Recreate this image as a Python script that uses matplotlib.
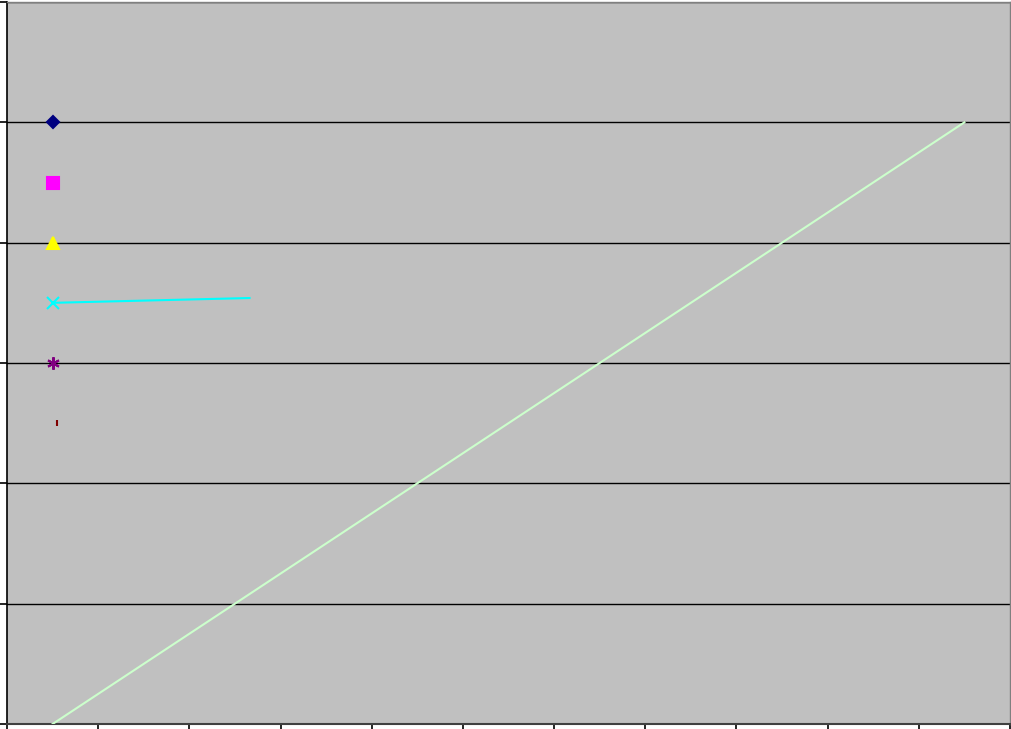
import matplotlib.pyplot as plt
import numpy as np

# data (x in category units, y in grid units)
marker_x = [0.5, 0.5, 0.5, 0.5, 0.5, 0.55]
marker_y = [5.0, 4.5, 4.0, 3.5, 3.0, 2.5]
marker_styles = ['D', 's', '^', 'x', (6, 2, 0), '|']
marker_colors = ['#000080', '#ff00ff', '#ffff00', '#00ffff', '#800080', '#800000']
marker_sizes = [6.5, 8, 8, 8, 9, 4]

cyan_x = [0.5, 2.66]
cyan_y = [3.5, 3.54]

green_x = [0.5, 10.5]
green_y = [0.0, 5.0]

fig = plt.figure(figsize=(10.11, 7.29), dpi=100)
ax = fig.add_axes([7 / 1011, 5 / 729, 1003 / 1011, 722 / 729])
ax.set_facecolor('#c0c0c0')

ax.plot(green_x, green_y, color='#ccffcc', lw=1.5, zorder=3)
ax.plot(cyan_x, cyan_y, color='#00ffff', lw=1.5, zorder=3)

for x, y, m, c, s in zip(marker_x, marker_y, marker_styles, marker_colors, marker_sizes):
    ax.plot([x], [y], marker=m, color=c, markersize=s, markeredgewidth=1.5,
            linestyle='none', zorder=4)

ax.set_xlim(0, 11)
ax.set_ylim(0, 6)
ax.set_xticks(np.arange(0, 12))
ax.set_yticks(np.arange(0, 7))
ax.set_xticklabels([])
ax.set_yticklabels([])
ax.tick_params(axis='both', direction='out', length=5, width=1.2, color='black')
ax.grid(axis='y', color='black', lw=1)
ax.set_axisbelow(True)

for side in ['top', 'right']:
    ax.spines[side].set_color('#808080')
    ax.spines[side].set_linewidth(1)
ax.spines['left'].set_color('black')
ax.spines['left'].set_linewidth(1.2)
ax.spines['bottom'].set_color('#404040')
ax.spines['bottom'].set_linewidth(1.5)

fig.savefig('out.png', dpi=100, facecolor='white')
